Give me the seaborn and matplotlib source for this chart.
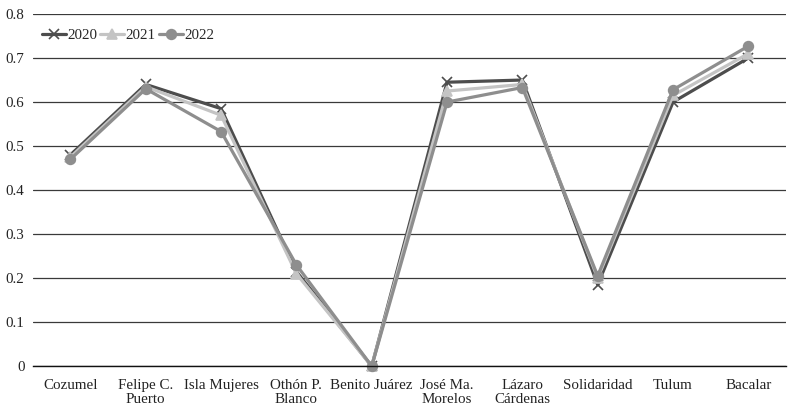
import matplotlib
matplotlib.use("Agg")
import matplotlib.pyplot as plt
import seaborn as sns
import pandas as pd

categories = ["Cozumel", "Felipe C.\nPuerto", "Isla Mujeres", "Othón P.\nBlanco",
              "Benito Juárez", "José Ma.\nMorelos", "Lázaro\nCárdenas",
              "Solidaridad", "Tulum", "Bacalar"]
v2020 = [0.48, 0.64, 0.585, 0.215, 0.0, 0.645, 0.65, 0.185, 0.60, 0.70]
v2021 = [0.475, 0.635, 0.57, 0.21, 0.0, 0.625, 0.64, 0.20, 0.615, 0.71]
v2022 = [0.47, 0.63, 0.533, 0.23, 0.0, 0.60, 0.633, 0.205, 0.628, 0.727]
series_names = ["2020", "2021", "2022"]
yticks = [0, 0.1, 0.2, 0.3, 0.4, 0.5, 0.6, 0.7, 0.8]

rows = []
for name, vals in zip(series_names, [v2020, v2021, v2022]):
    for i, v in enumerate(vals):
        rows.append({"idx": i, "value": v, "year": name})
df = pd.DataFrame(rows)

sns.set_style("white")
plt.rcParams["font.family"] = ["Liberation Serif", "DejaVu Serif"]

fig = plt.figure(figsize=(8, 4.18), dpi=100)
ax = fig.add_axes([0.041, 0.124, 0.9415, 0.8425])

palette = {"2020": "#4d4d4d", "2021": "#c4c4c4", "2022": "#8e8e8e"}
marker_map = {"2020": "x", "2021": "^", "2022": "o"}
size_map = {"2020": 7, "2021": 6.5, "2022": 7}
for name in series_names:
    sub = df[df["year"] == name]
    sns.lineplot(data=sub, x="idx", y="value", ax=ax, color=palette[name],
                 marker=marker_map[name], markersize=size_map[name],
                 markeredgewidth=1.2, markeredgecolor=palette[name],
                 linewidth=2.3, label=name, clip_on=False)

ax.set_xlim(-0.5, 9.5)
ax.set_ylim(0, 0.8)
ax.set_yticks(yticks)
ax.set_yticklabels(["0"] + [f"{t:.1f}" for t in yticks[1:]])
ax.set_xticks(range(len(categories)))
ax.set_xticklabels(categories, linespacing=1.1)
ax.set_xlabel("")
ax.set_ylabel("")
ax.yaxis.grid(True, color="#3a3a3a", linewidth=0.9)
ax.set_axisbelow(True)
for s in ["left", "right", "top"]:
    ax.spines[s].set_visible(False)
ax.spines["bottom"].set_color("#111111")
ax.spines["bottom"].set_linewidth(1.0)
ax.tick_params(axis="both", length=0, labelsize=10.8, colors="#222222")
ax.tick_params(axis="y", pad=6)
ax.tick_params(axis="x", pad=9)

leg = ax.legend(loc="upper left", bbox_to_anchor=(0.0, 0.985), ncol=3, frameon=False,
                fontsize=10.8, handlelength=1.6, handletextpad=0.1, columnspacing=0.2,
                borderaxespad=0.2)

fig.savefig("out.png", dpi=100)
